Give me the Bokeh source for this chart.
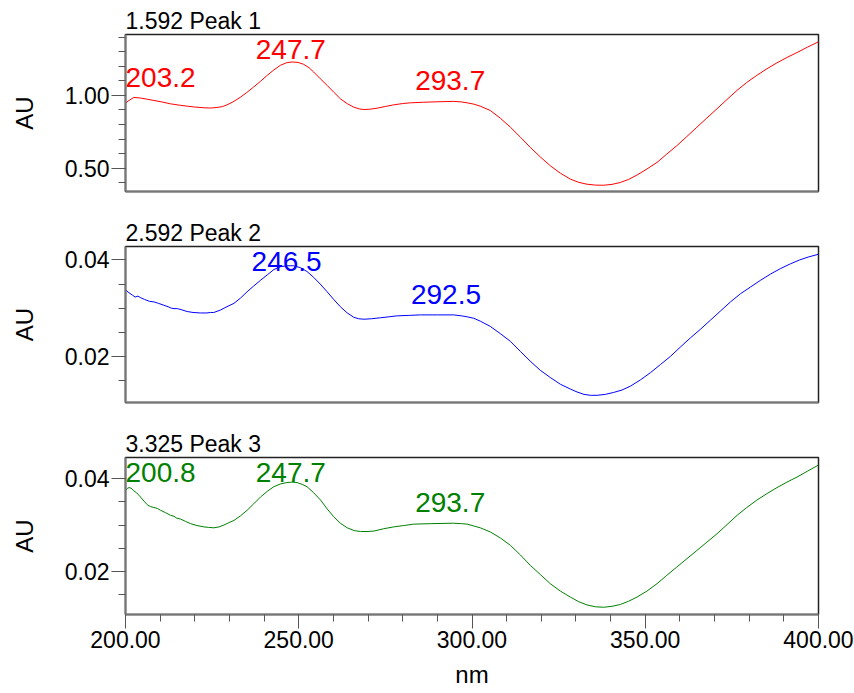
from bokeh.plotting import figure
from bokeh.layouts import column
from bokeh.models import (Range1d, SingleIntervalTicker, FixedTicker, NumeralTickFormatter,
                          Title, LinearAxis)
from bokeh.core.properties import value
from bokeh.embed import file_html
from bokeh.resources import INLINE

FONT = "Liberation Sans"

# ---------------- data ----------------
wl1 = [200.0, 201.0, 202.4, 204.3, 206.0, 208.2, 210.5, 213.0, 215.5, 217.8, 220.0, 222.6, 224.5,
       226.4, 228.0, 229.3, 231.0, 233.2, 235.0, 237.0, 239.0, 240.9, 242.8, 244.7, 246.5, 248.1,
       249.8, 251.4, 253.0, 254.3, 256.2, 258.2, 260.1, 262.0, 264.0, 265.9, 267.5, 268.8, 270.5,
       272.6, 275.0, 277.4, 280.0, 282.2, 286.0, 289.9, 294.7, 297.0, 298.6, 300.5, 302.4, 305.3,
       308.2, 311.1, 314.0, 316.8, 319.7, 322.6, 325.5, 328.4, 330.8, 333.2, 335.6, 338.0, 340.4,
       342.8, 345.2, 347.6, 350.5, 353.4, 356.2, 359.1, 362.0, 364.9, 367.8, 370.7, 373.6, 376.5,
       379.3, 382.2, 385.1, 388.0, 390.9, 393.8, 396.9, 400.0]
au1 = [0.947, 0.965, 0.986, 0.982, 0.975, 0.965, 0.955, 0.942, 0.933, 0.926, 0.920, 0.915, 0.913,
       0.917, 0.923, 0.935, 0.955, 0.988, 1.020, 1.058, 1.098, 1.138, 1.175, 1.207, 1.225, 1.230,
       1.227, 1.214, 1.190, 1.161, 1.115, 1.069, 1.022, 0.977, 0.943, 0.919, 0.907, 0.903, 0.905,
       0.912, 0.924, 0.935, 0.944, 0.949, 0.953, 0.956, 0.959, 0.955, 0.949, 0.940, 0.926, 0.896,
       0.843, 0.781, 0.712, 0.643, 0.577, 0.516, 0.465, 0.424, 0.402, 0.389, 0.383, 0.382, 0.388,
       0.401, 0.422, 0.452, 0.494, 0.539, 0.596, 0.654, 0.717, 0.781, 0.845, 0.908, 0.972, 1.035,
       1.089, 1.138, 1.183, 1.224, 1.261, 1.295, 1.333, 1.369]

wl2 = [200.0, 201.0, 202.0, 202.8, 203.6, 204.3, 205.5, 207.0, 208.2, 209.5, 211.1, 212.3, 213.2,
       214.0, 215.0, 216.0, 217.8, 219.5, 221.6, 223.5, 224.5, 225.5, 227.4, 229.0, 231.3, 233.2,
       235.1, 237.0, 239.0, 240.9, 242.8, 244.7, 246.6, 248.5, 250.5, 252.4, 254.3, 256.2, 258.2,
       260.1, 262.0, 264.0, 265.9, 267.3, 268.8, 271.0, 273.6, 276.0, 278.4, 282.0, 285.1, 290.0,
       294.7, 297.0, 298.6, 300.5, 302.4, 305.3, 308.2, 311.1, 314.0, 316.8, 319.7, 322.6, 325.5,
       328.4, 330.3, 332.3, 334.2, 336.1, 338.5, 340.9, 343.3, 345.7, 348.6, 351.5, 354.4, 357.3,
       360.1, 363.0, 365.9, 368.8, 371.7, 374.6, 377.5, 380.4, 383.3, 386.2, 389.0, 391.9, 394.5,
       397.0, 400.0]
au2 = [0.0338, 0.0332, 0.0327, 0.0323, 0.0325, 0.0322, 0.0318, 0.0314, 0.0313, 0.0310, 0.0306,
       0.0303, 0.0300, 0.0299, 0.0299, 0.0297, 0.0293, 0.0291, 0.0290, 0.0290, 0.0291, 0.0291,
       0.0296, 0.0302, 0.0310, 0.0321, 0.0334, 0.0346, 0.0358, 0.0369, 0.0380, 0.0386, 0.0388,
       0.0388, 0.0384, 0.0376, 0.0364, 0.0350, 0.0334, 0.0318, 0.0303, 0.0290, 0.0281, 0.0278,
       0.0277, 0.0278, 0.0280, 0.0282, 0.0284, 0.0285, 0.0286, 0.0286, 0.0286, 0.0284, 0.0282,
       0.0279, 0.0273, 0.0262, 0.0247, 0.0231, 0.0210, 0.0190, 0.0171, 0.0156, 0.0142, 0.0132,
       0.0126, 0.0121, 0.0119, 0.0119, 0.0121, 0.0125, 0.0130, 0.0138, 0.0151, 0.0166, 0.0183,
       0.0200, 0.0219, 0.0238, 0.0256, 0.0275, 0.0294, 0.0313, 0.0330, 0.0344, 0.0358, 0.0371,
       0.0382, 0.0392, 0.0400, 0.0406, 0.0412]

wl3 = [200.0, 200.6, 201.0, 201.6, 202.4, 203.2, 204.3, 205.3, 206.3, 207.2, 208.2, 209.2, 210.1,
       211.5, 213.0, 214.0, 214.8, 215.9, 217.3, 218.8, 220.6, 222.6, 224.0, 225.5, 227.0, 228.4,
       229.8, 231.3, 233.2, 235.1, 237.0, 239.0, 240.9, 242.8, 244.7, 246.6, 248.0, 249.5, 251.0,
       252.4, 254.3, 256.3, 258.2, 260.1, 262.0, 264.0, 266.0, 267.8, 269.7, 271.7, 274.5, 277.4,
       280.3, 283.2, 288.0, 294.7, 297.0, 298.6, 300.5, 302.4, 305.3, 308.2, 311.1, 314.0, 316.8,
       319.7, 322.6, 325.5, 328.4, 330.8, 333.2, 335.6, 338.0, 340.4, 342.8, 345.2, 347.6, 350.5,
       353.4, 356.2, 359.1, 362.0, 364.9, 367.8, 370.7, 373.6, 376.5, 379.3, 382.2, 385.1, 388.0,
       390.9, 393.8, 396.9, 400.0]
au3 = [0.0375, 0.0380, 0.0381, 0.0380, 0.0374, 0.0370, 0.0361, 0.0352, 0.0344, 0.0340, 0.0338,
       0.0336, 0.0332, 0.0327, 0.0321, 0.0319, 0.0315, 0.0313, 0.0308, 0.0303, 0.0299, 0.0296,
       0.0295, 0.0294, 0.0296, 0.0300, 0.0305, 0.0310, 0.0320, 0.0332, 0.0346, 0.0361, 0.0373,
       0.0383, 0.0389, 0.0392, 0.0393, 0.0392, 0.0388, 0.0383, 0.0370, 0.0354, 0.0335, 0.0318,
       0.0304, 0.0294, 0.0288, 0.0286, 0.0286, 0.0287, 0.0292, 0.0296, 0.0299, 0.0302, 0.0303,
       0.0304, 0.0303, 0.0302, 0.0298, 0.0294, 0.0285, 0.0272, 0.0256, 0.0235, 0.0213, 0.0193,
       0.0173, 0.0157, 0.0144, 0.0134, 0.0127, 0.0123, 0.0122, 0.0124, 0.0128, 0.0135, 0.0144,
       0.0157, 0.0173, 0.0191, 0.0209, 0.0227, 0.0245, 0.0263, 0.0281, 0.0301, 0.0321, 0.0338,
       0.0354, 0.0368, 0.0381, 0.0393, 0.0404, 0.0417, 0.0430]

peak_wl1 = [203.2, 247.7, 293.7]
peak_au1 = [0.982, 1.230, 0.959]
peak_wl2 = [246.5, 292.5]
peak_au2 = [0.0388, 0.0286]
peak_wl3 = [200.8, 247.7, 293.7]
peak_au3 = [0.0381, 0.0393, 0.0304]

titles = ["1.592 Peak 1", "2.592 Peak 2", "3.325 Peak 3"]
colors = ["#ff0000", "#0000ff", "#008000"]
y_limits = [(0.339, 1.419), (0.01041, 0.0428), (0.01063, 0.04463)]
y_major = [0.5, 0.02, 0.02]
y_minor_div = [5, 4, 4]
x_limits = (200.0, 400.0)

# ---------------- layout ----------------
W = 854
BORDER_L, BORDER_R = 125, 36
panels = [
    dict(h=211, top=34, bottom=20),
    dict(h=211, top=35, bottom=20),
    dict(h=271, top=35, bottom=79),
]

series = [(wl1, au1, peak_wl1, peak_au1), (wl2, au2, peak_wl2, peak_au2), (wl3, au3, peak_wl3, peak_au3)]

figs = []
for i in range(3):
    wl, au, pwl, pau = series[i]
    y0, y1 = y_limits[i]
    lay = panels[i]
    frame_h = lay["h"] - lay["top"] - lay["bottom"]
    frame_w = W - BORDER_L - BORDER_R
    p = figure(width=W, height=lay["h"], x_range=Range1d(*x_limits), y_range=Range1d(y0, y1),
               output_backend="svg", toolbar_location=None, x_axis_type=None, y_axis_type=None,
               min_border_left=BORDER_L, min_border_right=BORDER_R,
               min_border_top=lay["top"], min_border_bottom=lay["bottom"])
    p.grid.visible = False
    p.outline_line_color = "#222222"
    p.outline_line_width = 1.5
    p.background_fill_color = "white"
    p.border_fill_color = "white"

    p.add_layout(Title(text=titles[i], align="left", text_font=FONT, text_font_size="23px",
                       text_font_style="normal", text_color="black", standoff=2, offset=0), "above")

    yax = LinearAxis(ticker=SingleIntervalTicker(interval=y_major[i], num_minor_ticks=y_minor_div[i]),
                     formatter=NumeralTickFormatter(format="0.00"),
                     axis_label="AU", axis_label_text_font=FONT, axis_label_text_font_size="24px",
                     axis_label_text_font_style="normal", axis_label_standoff=24,
                     axis_label_text_color="black",
                     major_label_text_font=FONT, major_label_text_font_size="23px",
                     major_label_text_color="black",
                     major_label_standoff=2, major_tick_in=0, major_tick_out=14,
                     minor_tick_in=0, minor_tick_out=7,
                     axis_line_color="#777777", axis_line_width=2,
                     major_tick_line_color="#555555", minor_tick_line_color="#555555")
    p.add_layout(yax, "left")

    if i == 2:
        xax = LinearAxis(ticker=SingleIntervalTicker(interval=50, num_minor_ticks=5),
                         formatter=NumeralTickFormatter(format="0.00"),
                         axis_label="nm", axis_label_text_font=FONT, axis_label_text_font_size="24px",
                         axis_label_text_font_style="normal", axis_label_standoff=10,
                         axis_label_text_color="black",
                         major_label_text_font=FONT, major_label_text_font_size="23px",
                         major_label_text_color="black",
                         major_label_standoff=2, major_tick_in=0, major_tick_out=14,
                         minor_tick_in=0, minor_tick_out=7,
                         axis_line_color="#777777", axis_line_width=2,
                         major_tick_line_color="#555555", minor_tick_line_color="#555555")
    else:
        xax = LinearAxis(ticker=FixedTicker(ticks=[], minor_ticks=[]),
                         major_tick_line_color=None, minor_tick_line_color=None,
                         axis_line_color="#777777", axis_line_width=2)
    p.add_layout(xax, "below")

    p.line(wl, au, line_color=colors[i], line_width=1)

    # peak labels: baseline ~10px above the peak, kept ~25px below the frame top
    upp = (y1 - y0) / frame_h
    npx = (x_limits[1] - x_limits[0]) / frame_w
    for xw, ya in zip(pwl, pau):
        txt = "%.1f" % xw
        ly = min(ya + 10 * upp, y1 - 25 * upp) + 10.5 * upp
        if xw - 36 * npx < x_limits[0]:
            p.text(x=[x_limits[0]], y=[ly], text=[txt], text_align="left", text_baseline="alphabetic",
                   text_font=value(FONT), text_font_size="28px", text_color=colors[i])
        else:
            p.text(x=[xw], y=[ly], text=[txt], text_align="center", text_baseline="alphabetic",
                   text_font=value(FONT), text_font_size="28px", text_color=colors[i])
    figs.append(p)

layout = column(*figs, spacing=0)
open("out.html", "w").write(file_html(layout, INLINE))
